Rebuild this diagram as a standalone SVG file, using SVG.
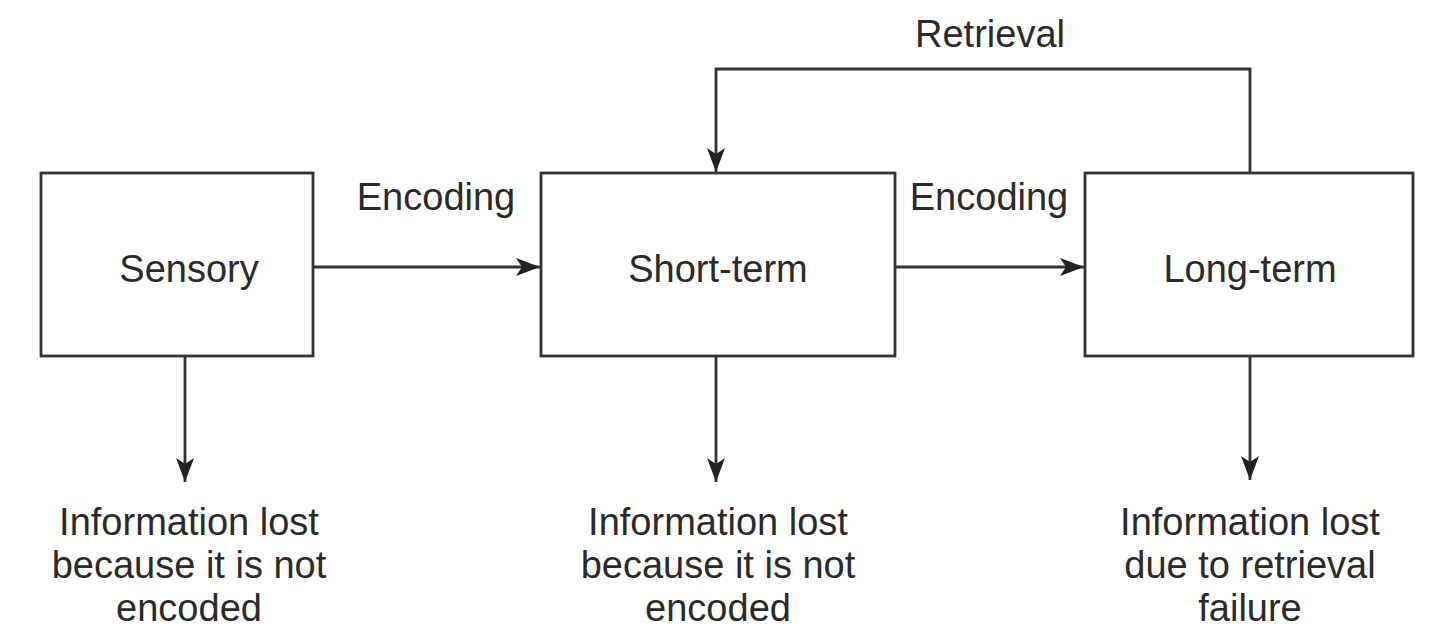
<svg xmlns="http://www.w3.org/2000/svg" width="1440" height="635" viewBox="0 0 1440 635">
<style>
.box{fill:#fff;stroke:#333;stroke-width:2.8}
.ln{fill:none;stroke:#333;stroke-width:2.8}
text{font-family:"Liberation Sans",Arial,sans-serif;font-size:38px;fill:#2a2a2a;text-anchor:middle}
</style>
<defs>
<marker id="ah" markerWidth="26" markerHeight="18" refX="24" refY="9" orient="auto" markerUnits="userSpaceOnUse">
<path d="M0,0 L24,9 L0,18 L6,9 Z" fill="#222"/>
</marker>
</defs>
<rect width="1440" height="635" fill="#fff"/>
<g id="connectors">
<line class="ln" x1="313" y1="267" x2="540" y2="267" marker-end="url(#ah)"/>
<line class="ln" x1="895" y1="267" x2="1084" y2="267" marker-end="url(#ah)"/>
<polyline class="ln" points="1250,173 1250,69 716,69 716,172" marker-end="url(#ah)"/>
<line class="ln" x1="185" y1="356" x2="185" y2="482" marker-end="url(#ah)"/>
<line class="ln" x1="716" y1="356" x2="716" y2="482" marker-end="url(#ah)"/>
<line class="ln" x1="1250" y1="356" x2="1250" y2="480" marker-end="url(#ah)"/>
<text x="436" y="210">Encoding</text>
<text x="989" y="210">Encoding</text>
<text x="990" y="47">Retrieval</text>
</g>
<g id="sensory">
<rect class="box" x="41" y="173" width="272" height="183"/>
<text x="189" y="282">Sensory</text>
</g>
<g id="short-term">
<rect class="box" x="541" y="173" width="354" height="183"/>
<text x="718" y="282">Short-term</text>
</g>
<g id="long-term">
<rect class="box" x="1085" y="173" width="328" height="183"/>
<text x="1250" y="282">Long-term</text>
</g>
<g id="loss-sensory">
<text x="189" y="535">Information lost</text>
<text x="189" y="578">because it is not</text>
<text x="189" y="621">encoded</text>
</g>
<g id="loss-short">
<text x="718" y="535">Information lost</text>
<text x="718" y="578">because it is not</text>
<text x="718" y="621">encoded</text>
</g>
<g id="loss-long">
<text x="1250" y="535">Information lost</text>
<text x="1250" y="578">due to retrieval</text>
<text x="1250" y="621">failure</text>
</g>
</svg>
